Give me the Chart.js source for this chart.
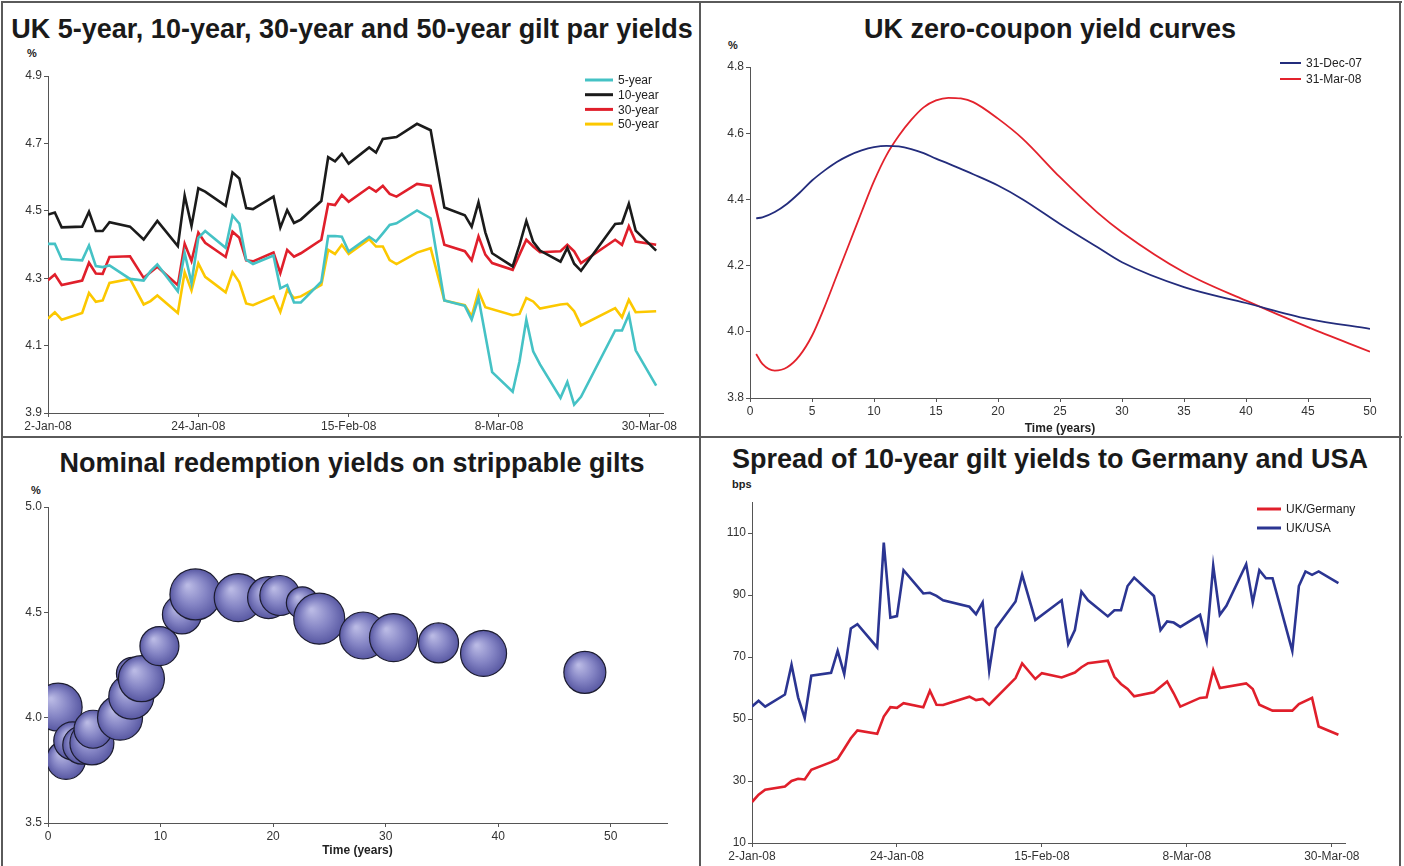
<!DOCTYPE html>
<html>
<head>
<meta charset="utf-8">
<script src="https://cdn.jsdelivr.net/npm/chart.js@4.4.1/dist/chart.umd.min.js"></script>
<style>
body{margin:0;background:#fff;width:1404px;height:866px;overflow:hidden;position:relative;font-family:"Liberation Sans",Arial,sans-serif}
canvas{position:absolute}
.ttl{position:absolute;width:698px;text-align:center;font-weight:bold;font-size:27px;line-height:28px;color:#1a1a1a;white-space:nowrap}
.unit{position:absolute;font-weight:bold;font-size:11px;line-height:12px;color:#222}
.ln{position:absolute;background:#5a5a5a;z-index:5}
</style>
</head>
<body>
<div class="ln" style="left:1px;top:1px;width:1401px;height:2px"></div>
<div class="ln" style="left:1px;top:1px;width:2px;height:866px"></div>
<div class="ln" style="left:1399px;top:1px;width:2px;height:866px"></div>
<div class="ln" style="left:699px;top:1px;width:2px;height:866px"></div>
<div class="ln" style="left:1px;top:436px;width:1401px;height:2px"></div>

<div class="ttl" style="left:3px;top:15px">UK 5-year, 10-year, 30-year and 50-year gilt par yields</div>
<div class="ttl" style="left:701px;top:15px">UK zero-coupon yield curves</div>
<div class="ttl" style="left:3px;top:449px">Nominal redemption yields on strippable gilts</div>
<div class="ttl" style="left:701px;top:445px">Spread of 10-year gilt yields to Germany and USA</div>

<div class="unit" style="left:27px;top:47px">%</div>
<div class="unit" style="left:728px;top:39px">%</div>
<div class="unit" style="left:31px;top:484px">%</div>
<div class="unit" style="left:732px;top:478px">bps</div>

<canvas id="parYields" width="696" height="433" style="left:3px;top:3px"></canvas>
<canvas id="zeroCurves" width="698" height="433" style="left:701px;top:3px"></canvas>
<canvas id="strips" width="696" height="428" style="left:3px;top:438px"></canvas>
<canvas id="spreads" width="698" height="428" style="left:701px;top:438px"></canvas>

<script>
// dates are days counted from 2-Jan-08
const dateTicks = [0, 22, 44, 66, 88];
const dateLabels = ['2-Jan-08', '24-Jan-08', '15-Feb-08', '8-Mar-08', '30-Mar-08'];

// par yields (%)
const parDays = [0,1,2,5,6,7,8,9,12,14,15,16,19,20,21,22,23,26,27,28,29,30,33,34,35,36,37,40,41,42,43,44,47,48,49,50,51,54,56,58,61,62,63,64,65,68,69,70,71,72,75,76,77,78,83,84,85,86,89];
const par5y = [4.402,4.402,4.357,4.353,4.397,4.336,4.333,4.338,4.298,4.293,4.321,4.341,4.261,4.375,4.286,4.420,4.440,4.390,4.486,4.462,4.355,4.342,4.367,4.270,4.280,4.228,4.228,4.290,4.425,4.425,4.423,4.379,4.423,4.409,4.433,4.458,4.463,4.501,4.478,4.234,4.218,4.177,4.241,null,4.021,3.963,4.053,4.177,4.083,4.044,3.945,3.992,3.925,3.948,4.145,4.145,4.192,4.086,3.981];
const par10y = [4.489,4.495,4.451,4.453,4.497,4.440,4.440,4.466,4.453,4.415,null,4.470,4.395,4.545,4.455,4.567,4.557,4.515,4.614,4.596,4.508,4.505,4.542,4.450,4.502,4.464,4.474,4.529,4.659,4.647,4.669,4.640,4.688,4.673,4.713,null,4.719,4.758,4.739,4.510,4.487,4.453,4.525,4.436,4.374,4.335,4.398,4.470,4.408,4.382,4.349,4.390,4.343,4.322,4.461,4.463,4.521,4.441,4.382];
const par30y = [4.294,4.311,4.280,4.293,4.346,4.314,4.313,4.363,4.365,4.301,null,4.334,4.279,4.402,4.351,4.435,4.405,4.363,4.438,4.420,4.353,4.350,4.376,4.315,4.384,4.364,4.374,4.414,4.520,4.517,4.547,4.527,4.570,4.557,4.574,4.550,4.542,4.580,4.574,4.399,4.380,4.353,4.424,4.370,4.345,4.325,4.370,4.414,4.394,4.377,4.380,4.399,4.380,4.345,4.414,4.399,4.454,4.409,4.399];
const par50y = [4.180,4.199,4.177,4.197,4.256,4.230,4.234,4.286,4.298,4.222,4.232,4.249,4.197,4.318,4.264,4.344,4.304,4.258,4.318,4.288,4.225,4.220,4.246,4.200,4.265,4.241,4.246,4.280,4.384,4.372,4.399,4.372,4.416,4.394,4.394,4.354,4.342,4.376,4.389,4.234,4.220,4.187,4.261,4.214,null,4.190,4.194,4.241,4.231,4.210,4.222,4.224,4.202,4.160,4.211,4.184,4.236,4.199,4.202];
const parTicks = [3.9, 4.1, 4.3, 4.5, 4.7, 4.9];

// zero-coupon curves (%)
const zcYears = [0.5,1,2,3,4,5,6,7,8,9,10,11,12,13,14,15,16,17,18,20,22,25,28,30,35,40,45,50];
const zcDec07 = [4.343,4.346,4.362,4.387,4.420,4.457,4.487,4.513,4.533,4.548,4.558,4.562,4.560,4.552,4.540,4.523,4.508,4.492,4.476,4.442,4.400,4.326,4.256,4.210,4.135,4.087,4.039,4.009];
const zcMar08 = [3.933,3.903,3.883,3.893,3.928,3.988,4.074,4.170,4.266,4.362,4.455,4.533,4.592,4.640,4.678,4.699,4.707,4.705,4.694,4.644,4.583,4.467,4.361,4.301,4.180,4.094,4.014,3.940];
const zcYTicks = [3.8, 4.0, 4.2, 4.4, 4.6, 4.8];
const zcXTicks = [0, 5, 10, 15, 20, 25, 30, 35, 40, 45, 50];

// strippable gilts: maturity (years), yield (%), bubble size
const stripYears = [0.9,1.6,2.2,3.0,3.9,4.0,6.4,7.4,7.5,8.3,9.9,11.9,13.1,16.9,19.6,20.6,22.6,24.1,28.0,30.7,34.7,38.7,47.7];
const stripYield = [4.05,3.80,3.89,3.87,3.88,3.945,4.00,4.10,4.21,4.185,4.34,4.49,4.585,4.57,4.57,4.58,4.545,4.47,4.39,4.38,4.355,4.305,4.215];
const stripSize = [24,19.5,19,19,22,19,22.5,22.5,16,23,19.5,19.5,25.5,24,21,20,16,25.5,23.5,24,20,23,21];
const stripYTicks = [3.5, 4.0, 4.5, 5.0];
const stripXTicks = [0, 10, 20, 30, 40, 50];

// spreads (bps)
const sprDays = [0,1,2,5,6,7,8,9,12,13,14,15,16,19,20,21,22,23,26,27,28,29,33,34,35,36,37,40,41,43,44,47,48,49,50,51,54,55,56,57,58,61,62,63,64,65,68,69,70,71,72,75,76,77,78,79,82,83,84,85,86,89];
const sprGermany = [23.2,25.6,27.2,28.2,30.0,30.7,30.5,33.6,36.1,37.1,40.4,43.8,46.3,45.2,50.8,53.8,53.6,55.1,53.8,59.1,54.6,54.5,57.2,56.1,56.5,54.6,null,63.2,67.9,62.9,64.8,63.4,null,65.0,66.7,68.0,68.8,63.6,61.3,59.7,57.3,58.6,null,62.1,58.3,54.0,56.8,57.0,65.8,60.0,null,61.5,59.7,54.6,null,52.7,52.7,54.8,null,56.8,47.6,44.9];
const sprUSA = [54.0,55.9,54.0,57.9,67.5,57.0,50.3,64.0,64.9,72.0,64.5,79.2,80.6,73.1,106.9,82.7,83.2,98.0,90.5,90.7,89.7,88.3,86.2,83.8,87.6,65.6,79.3,87.9,96.5,81.9,null,88.3,74.2,78.7,91.1,88.3,83.1,85.1,85.1,92.9,95.6,89.7,78.7,81.5,81.1,79.7,83.6,75.2,99.4,83.6,86.5,99.9,87.6,98.0,95.4,95.4,72.0,92.9,97.6,96.5,97.6,93.8];
const sprTicks = [10, 30, 50, 70, 90, 110];

Chart.defaults.font.family = '"Liberation Sans", Arial, sans-serif';
Chart.defaults.font.size = 12;
Chart.defaults.color = '#333';
Chart.defaults.animation = false;

const axisColor = '#555';

// legend drawn inside the plot, as in the original
const insideLegend = {
    id: 'insideLegend',
    afterDraw(chart, args, opts) {
        const ctx = chart.ctx;
        ctx.save();
        ctx.font = '12px "Liberation Sans", Arial, sans-serif';
        ctx.textBaseline = 'middle';
        chart.data.datasets.forEach(function(ds, i) {
            const y = opts.y + i * opts.gap;
            ctx.strokeStyle = ds.borderColor;
            ctx.lineWidth = opts.lineWidth;
            ctx.beginPath();
            ctx.moveTo(opts.x, y);
            ctx.lineTo(opts.x + opts.len, y);
            ctx.stroke();
            ctx.fillStyle = '#222';
            ctx.fillText(ds.label, opts.x + opts.len + 5, y + 1);
        });
        ctx.restore();
    }
};

function fixedTicks(list) {
    return function(scale) { scale.ticks = list.map(v => ({ value: v })); };
}

function axis(extra) {
    return Object.assign({
        type: 'linear',
        grid: { drawOnChartArea: false, drawTicks: true, tickLength: 4, color: axisColor },
        border: { color: axisColor, width: 1 },
        ticks: { padding: 2, maxRotation: 0, autoSkip: false, color: '#333' }
    }, extra);
}

function xPoints(xs, ys) {
    return xs.map((x, i) => ({ x: x, y: ys[i] }));
}

// UK par yields
new Chart(document.getElementById('parYields'), {
    type: 'line',
    data: {
        datasets: [
            { label: '5-year', data: xPoints(parDays, par5y), borderColor: '#45c2c5' },
            { label: '10-year', data: xPoints(parDays, par10y), borderColor: '#1b1b1b' },
            { label: '30-year', data: xPoints(parDays, par30y), borderColor: '#e01f2b' },
            { label: '50-year', data: xPoints(parDays, par50y), borderColor: '#fcc800' }
        ]
    },
    options: {
        responsive: false,
        spanGaps: true,
        elements: { point: { radius: 0 }, line: { borderWidth: 2.6, tension: 0 } },
        layout: { padding: { left: 5, right: 36, top: 73, bottom: 3 } },
        plugins: {
            legend: { display: false },
            tooltip: { enabled: false },
            insideLegend: { x: 582, y: 77, gap: 14.7, len: 28, lineWidth: 3 }
        },
        scales: {
            x: axis({
                min: 0, max: 90,
                afterBuildTicks: fixedTicks(dateTicks),
                afterFit: s => { s.height = 20; },
                ticks: { padding: 2, maxRotation: 0, autoSkip: false, callback: (v, i) => dateLabels[i] }
            }),
            y: axis({
                min: 3.9, max: 4.9,
                afterBuildTicks: fixedTicks(parTicks),
                afterFit: s => { s.width = 40; },
                ticks: { padding: 2, callback: v => v.toFixed(1) }
            })
        }
    },
    plugins: [insideLegend]
});

// UK zero-coupon curves
new Chart(document.getElementById('zeroCurves'), {
    type: 'line',
    data: {
        datasets: [
            { label: '31-Dec-07', data: xPoints(zcYears, zcDec07), borderColor: '#232c7c' },
            { label: '31-Mar-08', data: xPoints(zcYears, zcMar08), borderColor: '#e3222c' }
        ]
    },
    options: {
        responsive: false,
        elements: { point: { radius: 0 }, line: { borderWidth: 1.8, cubicInterpolationMode: 'monotone' } },
        layout: { padding: { left: 9, right: 29, top: 64, bottom: 0 } },
        plugins: {
            legend: { display: false },
            tooltip: { enabled: false },
            insideLegend: { x: 579, y: 60, gap: 16, len: 21, lineWidth: 2 }
        },
        scales: {
            x: axis({
                min: 0, max: 50,
                afterBuildTicks: fixedTicks(zcXTicks),
                afterFit: s => { s.height = 38; },
                title: { display: true, text: 'Time (years)', font: { weight: 'bold', size: 12 }, color: '#222', padding: 0 }
            }),
            y: axis({
                min: 3.8, max: 4.8,
                afterBuildTicks: fixedTicks(zcYTicks),
                afterFit: s => { s.width = 40; },
                ticks: { padding: 2, callback: v => v.toFixed(1) }
            })
        }
    },
    plugins: [insideLegend]
});

// shaded ball look for the bubbles
function ballFill(c) {
    const ch = c.chart, p = c.raw;
    if (!p || !ch.scales || !ch.scales.x || !ch.scales.y) return '#8585c4';
    const px = ch.scales.x.getPixelForValue(p.x);
    const py = ch.scales.y.getPixelForValue(p.y);
    if (!isFinite(px) || !isFinite(py) || !isFinite(p.r)) return '#8585c4';
    const g = ch.ctx.createRadialGradient(px - p.r * 0.3, py - p.r * 0.35, p.r * 0.05, px, py, p.r);
    g.addColorStop(0, '#b9b9e4');
    g.addColorStop(0.55, '#8484c4');
    g.addColorStop(1, '#5858a2');
    return g;
}

// strippable gilts bubbles
new Chart(document.getElementById('strips'), {
    type: 'bubble',
    data: {
        datasets: [{
            label: 'Strippable gilts',
            data: stripYears.map((x, i) => ({ x: x, y: stripYield[i], r: stripSize[i] })),
            borderColor: '#1c1c30',
            borderWidth: 1.2,
            backgroundColor: ballFill
        }]
    },
    options: {
        responsive: false,
        layout: { padding: { left: 5, right: 32, top: 69, bottom: 8 } },
        plugins: { legend: { display: false }, tooltip: { enabled: false } },
        scales: {
            x: axis({
                min: 0, max: 55,
                afterBuildTicks: fixedTicks(stripXTicks),
                afterFit: s => { s.height = 35; },
                title: { display: true, text: 'Time (years)', font: { weight: 'bold', size: 12 }, color: '#222', padding: 0 }
            }),
            y: axis({
                min: 3.5, max: 5.0,
                afterBuildTicks: fixedTicks(stripYTicks),
                afterFit: s => { s.width = 40; },
                ticks: { padding: 2, callback: v => v.toFixed(1) }
            })
        }
    }
});

// spreads to Germany and USA
new Chart(document.getElementById('spreads'), {
    type: 'line',
    data: {
        datasets: [
            { label: 'UK/Germany', data: xPoints(sprDays, sprGermany), borderColor: '#e01f2b' },
            { label: 'UK/USA', data: xPoints(sprDays, sprUSA), borderColor: '#2b3592' }
        ]
    },
    options: {
        responsive: false,
        spanGaps: true,
        elements: { point: { radius: 0 }, line: { borderWidth: 2.6, tension: 0 } },
        layout: { padding: { left: 11, right: 54, top: 64, bottom: 3 } },
        plugins: {
            legend: { display: false },
            tooltip: { enabled: false },
            insideLegend: { x: 556, y: 71, gap: 19, len: 24, lineWidth: 3 }
        },
        scales: {
            x: axis({
                min: 0, max: 90,
                afterBuildTicks: fixedTicks(dateTicks),
                afterFit: s => { s.height = 20; },
                ticks: { padding: 2, maxRotation: 0, autoSkip: false, callback: (v, i) => dateLabels[i] }
            }),
            y: axis({
                min: 10, max: 120,
                afterBuildTicks: fixedTicks(sprTicks),
                afterFit: s => { s.width = 40; }
            })
        }
    },
    plugins: [insideLegend]
});
</script>
</body>
</html>
